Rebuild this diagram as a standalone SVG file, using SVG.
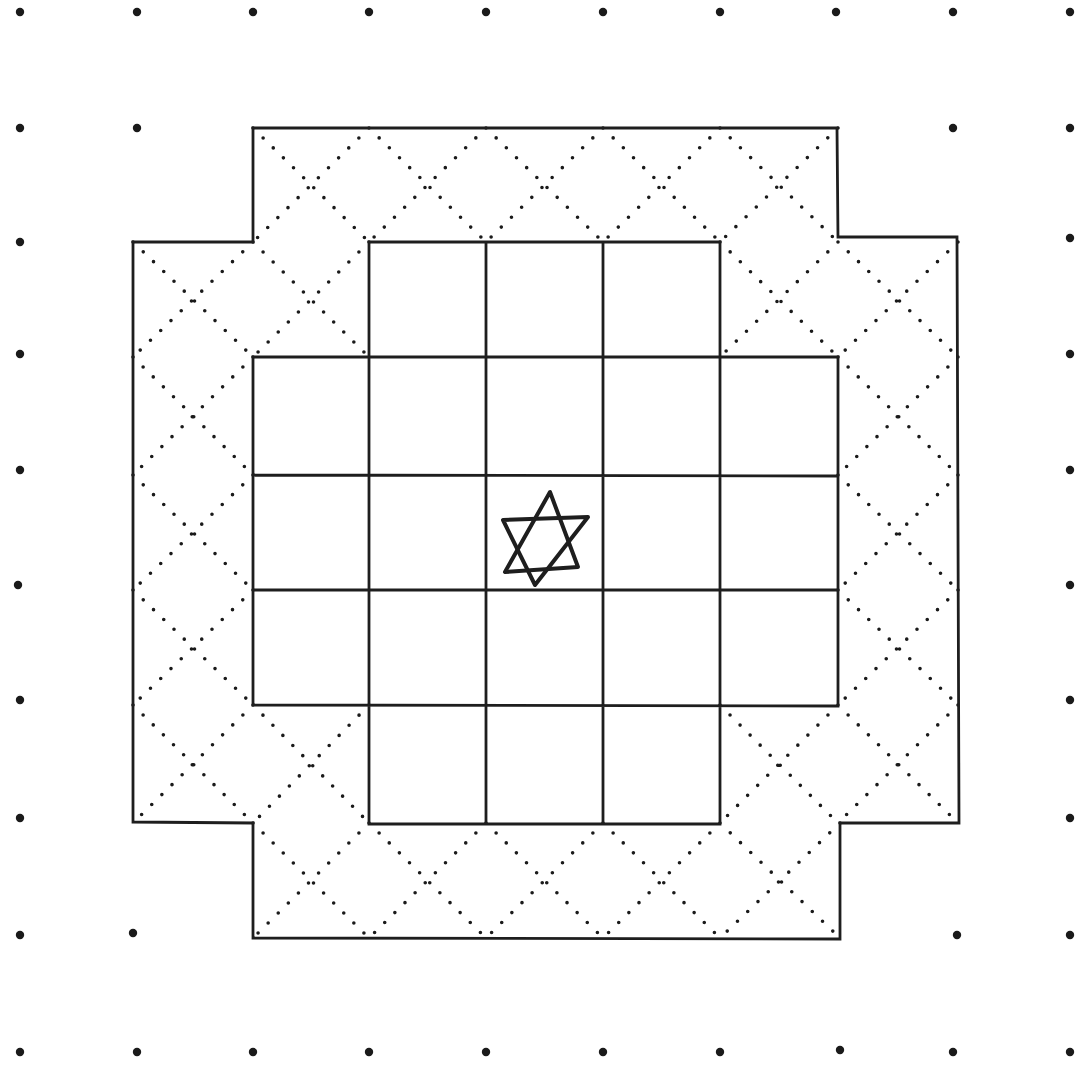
<svg xmlns="http://www.w3.org/2000/svg" width="1078" height="1065" viewBox="0 0 1078 1065">
<style>
.pt{fill:#1a1a1a}
.ln{fill:none;stroke:#1e1e1e;stroke-width:2.8;stroke-linejoin:miter;stroke-linecap:square}
.dot{fill:none;stroke:#1a1a1a;stroke-width:3.6;stroke-linecap:round;stroke-dasharray:0 14.2}
.star{fill:none;stroke:#1e1e1e;stroke-width:4;stroke-linejoin:round;stroke-linecap:round}
</style>
<rect width="1078" height="1065" fill="#ffffff"/>
<g id="lattice-dots">
<circle class="pt" cx="20" cy="12" r="4.2"/><circle class="pt" cx="137" cy="12" r="4.2"/><circle class="pt" cx="253" cy="12" r="4.2"/><circle class="pt" cx="369" cy="12" r="4.2"/><circle class="pt" cx="486" cy="12" r="4.2"/><circle class="pt" cx="603" cy="12" r="4.2"/><circle class="pt" cx="720" cy="12" r="4.2"/><circle class="pt" cx="836" cy="12" r="4.2"/><circle class="pt" cx="953" cy="12" r="4.2"/><circle class="pt" cx="1070" cy="12" r="4.2"/>
<circle class="pt" cx="20" cy="128" r="4.2"/><circle class="pt" cx="137" cy="128" r="4.2"/><circle class="pt" cx="953" cy="128" r="4.2"/><circle class="pt" cx="1070" cy="128" r="4.2"/>
<circle class="pt" cx="20" cy="242" r="4.2"/><circle class="pt" cx="1070" cy="238" r="4.2"/>
<circle class="pt" cx="20" cy="354" r="4.2"/><circle class="pt" cx="1070" cy="354" r="4.2"/>
<circle class="pt" cx="20" cy="470" r="4.2"/><circle class="pt" cx="1070" cy="470" r="4.2"/>
<circle class="pt" cx="18" cy="585" r="4.2"/><circle class="pt" cx="1070" cy="585" r="4.2"/>
<circle class="pt" cx="20" cy="700" r="4.2"/><circle class="pt" cx="1070" cy="700" r="4.2"/>
<circle class="pt" cx="20" cy="818" r="4.2"/><circle class="pt" cx="1070" cy="818" r="4.2"/>
<circle class="pt" cx="20" cy="935" r="4.2"/><circle class="pt" cx="133" cy="933" r="4.2"/><circle class="pt" cx="957" cy="935" r="4.2"/><circle class="pt" cx="1070" cy="935" r="4.2"/>
<circle class="pt" cx="20" cy="1052" r="4.2"/><circle class="pt" cx="137" cy="1052" r="4.2"/><circle class="pt" cx="253" cy="1052" r="4.2"/><circle class="pt" cx="369" cy="1052" r="4.2"/><circle class="pt" cx="486" cy="1052" r="4.2"/><circle class="pt" cx="603" cy="1052" r="4.2"/><circle class="pt" cx="720" cy="1052" r="4.2"/><circle class="pt" cx="840" cy="1050" r="4.2"/><circle class="pt" cx="953" cy="1052" r="4.2"/><circle class="pt" cx="1070" cy="1052" r="4.2"/>
</g>
<g id="border-diagonals">
<path class="dot" d="M253 128L369 242M369 128L253 242M369 128L486 242M486 128L369 242M486 128L603 242M603 128L486 242M603 128L720 242M720 128L603 242M720 128L838 242M838 128L720 242
M133 242L253 357M253 242L133 357M253 242L369 357M369 242L253 357M720 242L838 357M838 242L720 357M838 242L958 357M958 242L838 357
M133 357L253 475M253 357L133 475M838 357L958 475M958 357L838 475
M133 475L253 590M253 475L133 590M838 475L958 590M958 475L838 590
M133 590L253 705M253 590L133 705M838 590L958 705M958 590L838 705
M133 705L253 823M253 705L133 823M253 705L369 823M369 705L253 823M720 705L838 823M838 705L720 823M838 705L958 823M958 705L838 823
M253 823L369 938M369 823L253 938M369 823L486 938M486 823L369 938M486 823L603 938M603 823L486 938M603 823L720 938M720 823L603 938M720 823L840 938M840 823L720 938"/>
</g>
<g id="outer-outline">
<path class="ln" d="M253 128L837 128L838 237L957 237L959 823L840 823L840 939L253 938L253 823L133 822L133 242L253 242Z"/>
</g>
<g id="inner-grid">
<path class="ln" d="M369 242L720 242M253 357L838 357M253 475L838 476M253 590L838 590M253 705L838 706M369 824L720 824
M253 357L253 705M838 357L838 706M369 242L369 824M486 242L486 824M603 242L603 824M720 242L720 824"/>
</g>
<g id="star">
<path class="star" d="M550 492L505 572L578 567Z"/>
<path class="star" d="M503 520L588 517L535 585Z"/>
</g>
</svg>
